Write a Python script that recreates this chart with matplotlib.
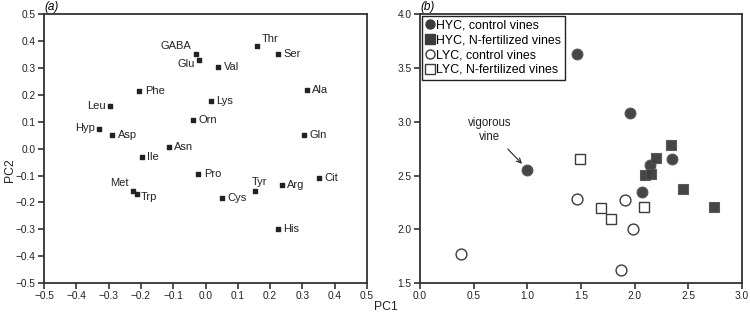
import matplotlib.pyplot as plt
from matplotlib.lines import Line2D

plt.rcParams['font.family'] = ['Liberation Sans', 'DejaVu Sans']

# panel (a): amino acid loadings
acids = ['GABA', 'Glu', 'Val', 'Thr', 'Ser', 'Ala', 'Phe', 'Lys', 'Leu', 'Orn', 'Hyp',
         'Asp', 'Gln', 'Asn', 'Ile', 'Pro', 'Met', 'Trp', 'Cys', 'Tyr', 'Arg', 'Cit', 'His']
pc1_a = [-0.03, -0.02, 0.04, 0.16, 0.223, 0.314, -0.205, 0.016, -0.297, -0.038, -0.329,
         -0.289, 0.305, -0.114, -0.197, -0.022, -0.225, -0.212, 0.052, 0.154, 0.236, 0.35, 0.223]
pc2_a = [0.353, 0.33, 0.305, 0.38, 0.353, 0.217, 0.215, 0.178, 0.157, 0.105, 0.073,
         0.051, 0.05, 0.006, -0.03, -0.095, -0.157, -0.17, -0.184, -0.157, -0.137, -0.111, -0.297]

# panel (b): vine scores
hyc_ctrl_x = [1.465, 1.96, 1.0, 2.07, 2.146, 2.348]
hyc_ctrl_y = [3.63, 3.08, 2.555, 2.345, 2.60, 2.65]
hyc_n_x = [2.34, 2.198, 2.10, 2.155, 2.45, 2.74]
hyc_n_y = [2.783, 2.662, 2.507, 2.517, 2.374, 2.21]
lyc_ctrl_x = [0.38, 1.465, 1.873, 1.912, 1.99]
lyc_ctrl_y = [1.768, 2.284, 1.623, 2.268, 2.0]
lyc_n_x = [1.49, 1.686, 1.779, 2.085]
lyc_n_y = [2.656, 2.196, 2.1, 2.21]

# label placement: (dx, dy, ha, va) in points
offsets = {
    'GABA': (-3, 2, 'right', 'bottom'), 'Glu': (-3, -3, 'right', 'center'),
    'Thr': (3, 2, 'left', 'bottom'), 'Leu': (-3, 0, 'right', 'center'),
    'Hyp': (-3, 1, 'right', 'center'), 'Met': (-3, 2, 'right', 'bottom'),
    'Trp': (3, -2, 'left', 'center'), 'Tyr': (3, 3, 'center', 'bottom'),
}

dark = '#3c3c3c'
fig = plt.figure(figsize=(7.5, 3.21), dpi=100)
ax1 = fig.add_axes([0.0587, 0.118, 0.4306, 0.838])
ax2 = fig.add_axes([0.56, 0.118, 0.429, 0.838])

ax1.scatter(pc1_a, pc2_a, marker='s', s=8, color='#222222', zorder=3)
for name, x, y in zip(acids, pc1_a, pc2_a):
    dx, dy, ha, va = offsets.get(name, (4, 0, 'left', 'center'))
    ax1.annotate(name, (x, y), xytext=(dx, dy), textcoords='offset points',
                 ha=ha, va=va, fontsize=8, color='#222222')
ax1.set_xlim(-0.5, 0.5)
ax1.set_ylim(-0.5, 0.5)
ax1.set_xticks([i / 10 for i in range(-5, 6)])
ax1.set_yticks([i / 10 for i in range(-5, 6)])
ax1.xaxis.set_major_formatter(plt.FuncFormatter(lambda v, p: f'{v:.1f}'.replace('-', '\u2212')))
ax1.yaxis.set_major_formatter(plt.FuncFormatter(lambda v, p: f'{v:.1f}'.replace('-', '\u2212')))

ms = 7.8
ax2.plot(hyc_ctrl_x, hyc_ctrl_y, 'o', ms=ms, mfc=dark, mec='#555555', mew=0.8, ls='none', alpha=0.95, zorder=3)
ax2.plot(hyc_n_x, hyc_n_y, 's', ms=ms, mfc=dark, mec='#555555', mew=0.8, ls='none', alpha=0.95, zorder=3)
ax2.plot(lyc_ctrl_x, lyc_ctrl_y, 'o', ms=ms, mfc='white', mec=dark, mew=1.0, ls='none', zorder=2)
ax2.plot(lyc_n_x, lyc_n_y, 's', ms=ms, mfc='white', mec=dark, mew=1.0, ls='none', zorder=2)
ax2.annotate('vigorous\nvine', xy=(0.96, 2.6), xytext=(0.65, 2.92),
             ha='center', va='center', fontsize=8.3, color='#222222', linespacing=1.2,
             arrowprops=dict(arrowstyle='->', color='#222222', lw=0.8, shrinkA=3, shrinkB=1))
ax2.set_xlim(0, 3)
ax2.set_ylim(1.5, 4.0)
ax2.set_xticks([0, 0.5, 1.0, 1.5, 2.0, 2.5, 3.0])
ax2.set_yticks([1.5, 2.0, 2.5, 3.0, 3.5, 4.0])
ax2.xaxis.set_major_formatter(plt.FuncFormatter(lambda v, p: f'{v:.1f}'))
ax2.yaxis.set_major_formatter(plt.FuncFormatter(lambda v, p: f'{v:.1f}'))

handles = [
    Line2D([], [], marker='o', ls='none', ms=6.5, mfc=dark, mec=dark),
    Line2D([], [], marker='s', ls='none', ms=6.5, mfc=dark, mec=dark),
    Line2D([], [], marker='o', ls='none', ms=6.5, mfc='white', mec=dark),
    Line2D([], [], marker='s', ls='none', ms=6.5, mfc='white', mec=dark),
]
labels = ['HYC, control vines', 'HYC, N-fertilized vines', 'LYC, control vines', 'LYC, N-fertilized vines']
leg = ax2.legend(handles, labels, loc='upper left', fontsize=8.9, fancybox=False, framealpha=1,
                 edgecolor='#222222', handletextpad=0.15, handlelength=0.7, borderpad=0.3,
                 labelspacing=0.22, borderaxespad=0.15, handleheight=0.7)
leg.get_frame().set_linewidth(1.0)

for ax in (ax1, ax2):
    for sp in ax.spines.values():
        sp.set_color('#333333')
        sp.set_linewidth(1.3)
    ax.tick_params(direction='out', length=4, width=1.2, color='#333333',
                   labelsize=7.3, labelcolor='#222222', pad=2)

ax1.text(0.0, 1.005, '(a)', transform=ax1.transAxes, fontsize=8.5, style='italic', va='bottom', ha='left')
ax2.text(0.0, 1.005, '(b)', transform=ax2.transAxes, fontsize=8.5, style='italic', va='bottom', ha='left')
fig.text(0.013, 0.47, 'PC2', rotation=90, fontsize=8.8, ha='center', va='center', color='#222222')
fig.text(0.515, 0.044, 'PC1', fontsize=8.8, ha='center', va='center', color='#222222')

fig.savefig('out.png', dpi=100)
